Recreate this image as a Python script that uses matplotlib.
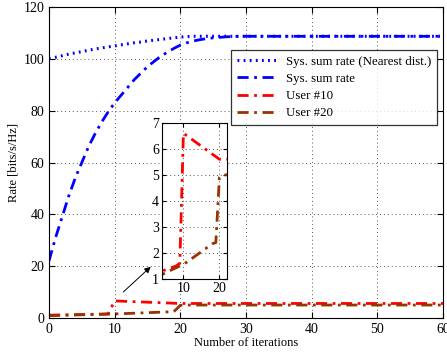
import matplotlib
matplotlib.use("Agg")
import matplotlib.pyplot as plt
import numpy as np

plt.rcParams["font.family"] = ["Liberation Serif", "DejaVu Serif"]
plt.rcParams["font.size"] = 9

# Iterations 0..60
iters = np.arange(0, 61)

# System sum rate, nearest distance association
sum_nearest_head = [100.0, 100.6, 101.2, 101.8, 102.3, 102.8, 103.3, 103.8, 104.2, 104.6,
                    105.0, 105.4, 105.8, 106.2, 106.5, 106.9, 107.2, 107.5, 107.8, 108.1,
                    108.4, 108.6]
# System sum rate
sum_rate_head = [22.0, 31.0, 39.0, 47.0, 54.0, 60.0, 66.0, 71.0, 75.5, 79.5,
                 83.0, 86.0, 89.0, 92.0, 94.5, 97.0, 99.0, 101.0, 102.5, 104.0,
                 105.3, 106.2, 106.9, 107.4, 107.8, 108.1, 108.3, 108.5, 108.6]
# User #10 rate
user10_head = [1.1, 1.15, 1.2, 1.25, 1.3, 1.35, 1.4, 1.45, 1.5, 1.6,
               6.6, 6.5, 6.4, 6.3, 6.2, 6.1, 6.0, 5.9, 5.8, 5.7,
               5.6]
# User #20 rate
user20_head = [0.9, 0.97, 1.04, 1.1, 1.17, 1.23, 1.3, 1.37, 1.43, 1.5,
               1.57, 1.65, 1.75, 1.85, 1.95, 2.05, 2.15, 2.25, 2.35, 2.4,
               4.9]

sum_nearest = sum_nearest_head + [108.7] * (61 - len(sum_nearest_head))
sum_rate = sum_rate_head + [108.7] * (61 - len(sum_rate_head))
user10 = user10_head + [5.6] * (61 - len(user10_head))
user20 = user20_head + [5.0] * (61 - len(user20_head))

blue = "#0000ff"
red = "#ff0000"
brown = "#993300"
dashdot = (0, (4, 2, 1, 2))

fig = plt.figure(figsize=(4.47, 3.54), dpi=100)
ax = fig.add_axes([0.1096, 0.1017, 0.8814, 0.8785])

ax.plot(iters, sum_nearest, color=blue, linestyle=(0, (0.6, 1.4)), linewidth=2.2,
        label="Sys. sum rate (Nearest dist.)")
ax.plot(iters, sum_rate, color=blue, linestyle=dashdot, linewidth=2.0,
        label="Sys. sum rate")
ax.plot(iters, user10, color=red, linestyle=dashdot, linewidth=2.0,
        label="User #10")
ax.plot(iters, user20, color=brown, linestyle=dashdot, linewidth=2.0,
        label="User #20")

ax.set_xlim(0, 60)
ax.set_ylim(0, 120)
ax.set_xticks(np.arange(0, 61, 10))
ax.set_yticks(np.arange(0, 121, 20))
ax.grid(True, linestyle=(0, (1, 3)), color="#555555", linewidth=0.7)
ax.tick_params(direction="in", length=4, top=True, right=True, labelsize=10)
ax.set_xlabel("Number of iterations", labelpad=1)
ax.set_ylabel("Rate [bits/s/Hz]", labelpad=3)

leg = ax.legend(loc="upper right", bbox_to_anchor=(0.985, 0.862), borderaxespad=0,
                frameon=True, fancybox=False, edgecolor="black", handlelength=3.2,
                borderpad=0.45, labelspacing=0.4, handletextpad=0.6,
                prop={"size": 9.3})
leg.get_frame().set_linewidth(0.9)

ax.annotate("", xy=(15.8, 20.5), xytext=(11.0, 9.3),
            arrowprops=dict(arrowstyle="-|>", color="black", lw=0.7,
                            mutation_scale=9))

# Inset zoom
axi = fig.add_axes([0.362, 0.212, 0.145, 0.441])
axi.plot(iters, user10, color=red, linestyle=dashdot, linewidth=2.0)
axi.plot(iters, user20, color=brown, linestyle=dashdot, linewidth=2.0)
axi.set_xlim(4, 22)
axi.set_ylim(1, 7)
axi.set_xticks([10, 20])
axi.set_yticks(np.arange(1, 8, 1))
axi.grid(True, linestyle=(0, (1, 3)), color="#555555", linewidth=0.7)
axi.tick_params(direction="in", length=3, top=True, right=True, pad=2, labelsize=10)

fig.savefig("out.png", dpi=100)
